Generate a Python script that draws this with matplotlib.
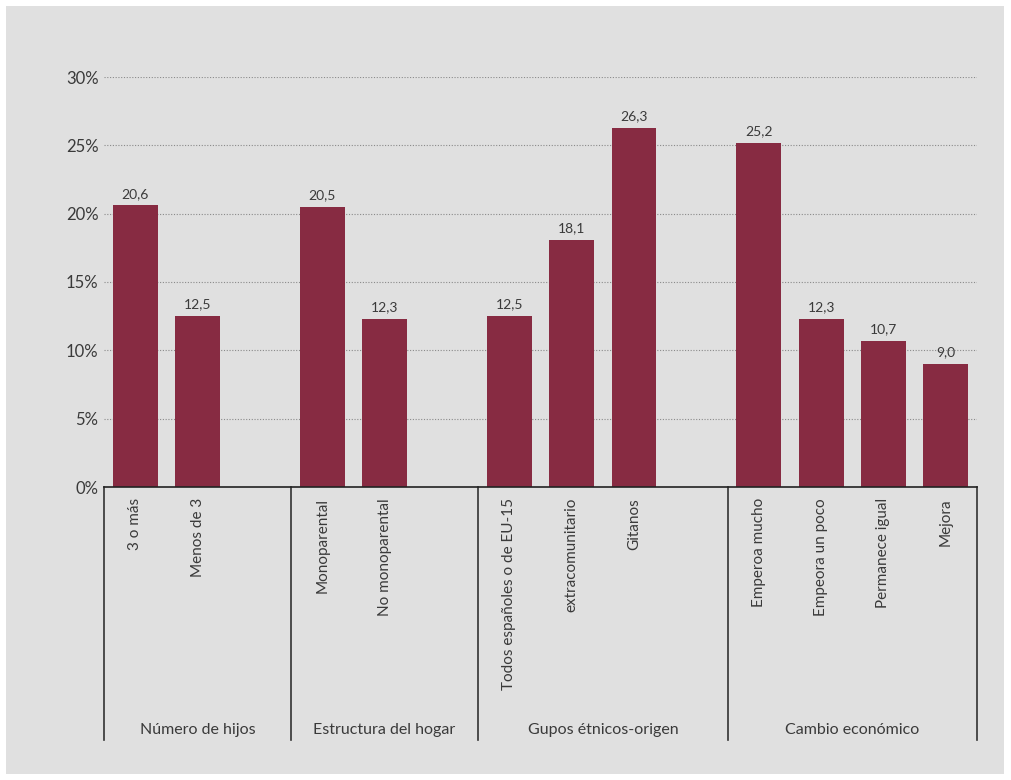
import matplotlib.pyplot as plt
from matplotlib.patches import Rectangle

# ==============================================================================
# DATOS
# ==============================================================================
grupos = ["Número de hijos", "Estructura del hogar", "Gupos étnicos-origen", "Cambio económico"]
categorias = [
    ["3 o más", "Menos de 3"],
    ["Monoparental", "No monoparental"],
    ["Todos españoles o de EU-15", "extracomunitario", "Gitanos"],
    ["Emperoa mucho", "Empeora un poco", "Permanece igual", "Mejora"],
]
valores = [
    [20.6, 12.5],
    [20.5, 12.3],
    [12.5, 18.1, 26.3],
    [25.2, 12.3, 10.7, 9.0],
]

COLOR_BARRA = "#872b42"
COLOR_FONDO = "#e0e0e0"
COLOR_TEXTO = "#3a3a3a"
FUENTE = "Lato"

plt.rcParams["font.family"] = [FUENTE, "DejaVu Sans"]

fig = plt.figure(figsize=(10.11, 7.80), dpi=100)
fig.patch.set_facecolor("white")
fig.add_artist(Rectangle((6 / 1011, 6 / 780), 998 / 1011, 768 / 780,
                         transform=fig.transFigure, facecolor=COLOR_FONDO,
                         edgecolor="none", zorder=0))

ax = fig.add_axes([104 / 1011, 293 / 780, 873 / 1011, 410 / 780])
ax.set_facecolor("none")

# posiciones: cada grupo deja un hueco de una barra antes del siguiente
posiciones = []
etiquetas = []
separadores = [-0.5]
centros_grupo = []
x = 0
for i, (cats, vals) in enumerate(zip(categorias, valores)):
    inicio = x
    for c, v in zip(cats, vals):
        posiciones.append(x)
        etiquetas.append(c)
        x += 1
    if i < len(grupos) - 1:
        x += 1
    fin = x - 0.5
    centros_grupo.append((separadores[-1] + fin) / 2)
    separadores.append(fin)

todos = [v for vals in valores for v in vals]
ax.bar(posiciones, todos, width=0.72, color=COLOR_BARRA, zorder=3)

for px, v in zip(posiciones, todos):
    ax.annotate(f"{v:.1f}".replace(".", ","), (px, v), xytext=(0, 4),
                textcoords="offset points", ha="center", va="bottom",
                fontsize=10, color=COLOR_TEXTO)

ax.set_xlim(-0.5, 13.5)
ax.set_ylim(0, 30)
ax.set_yticks(range(0, 31, 5))
ax.set_yticklabels([f"{t}%" for t in range(0, 31, 5)], fontsize=12, color=COLOR_TEXTO)
ax.tick_params(axis="y", length=0, pad=4)

ax.set_xticks(posiciones)
ax.set_xticklabels(etiquetas, rotation=90, fontsize=11, color=COLOR_TEXTO, va="top")
ax.tick_params(axis="x", length=0, pad=8)

for t in range(5, 31, 5):
    ax.axhline(t, color="#8a8a8a", linestyle=(0, (1, 1.5)), linewidth=0.8, zorder=1)

for s in ax.spines.values():
    s.set_visible(False)
ax.axhline(0, color="#222222", linewidth=1.2, zorder=4, clip_on=False)

trans = ax.get_xaxis_transform()
for s in separadores:
    ax.plot([s, s], [0, -0.617], transform=trans, color="#333333",
            linewidth=1.2, clip_on=False)

for g, cx in zip(grupos, centros_grupo):
    ax.text(cx, -0.593, g, transform=trans, ha="center", va="center",
            fontsize=11.5, color=COLOR_TEXTO)

fig.savefig("out.png", dpi=100)
